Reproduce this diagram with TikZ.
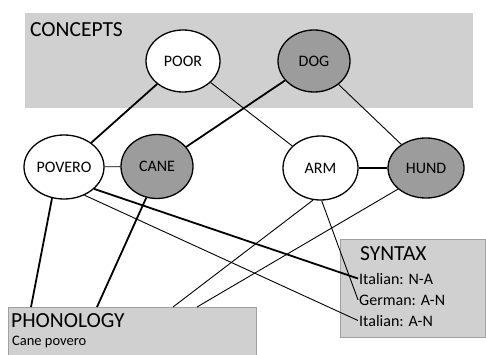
\documentclass[tikz,border=0pt]{standalone}
\usepackage{fontspec}
\setmainfont{Carlito}
\usetikzlibrary{shapes.geometric}
\definecolor{boxgray}{HTML}{D0D0D0}
\definecolor{nodegray}{HTML}{9C9C9C}
\definecolor{edgegray}{HTML}{A0A0A0}

\begin{document}
\begin{tikzpicture}[x=1pt,y=-1pt,
    concept/.style={ellipse,draw,line width=1.3pt,fill=white,inner sep=0pt,
      minimum height=62pt,font=\fontsize{16}{18}\selectfont},
    darkconcept/.style={concept,fill=nodegray},
    strong/.style={line width=1.8pt},
    weak/.style={line width=0.9pt},
    title/.style={anchor=base west,inner sep=0pt,font=\fontsize{21.5}{24}\selectfont},
    entry/.style={anchor=base west,inner sep=1pt,font=\fontsize{16}{18}\selectfont}]
    \clip (0,0) rectangle (486,355);
    % the three levels
    \fill[boxgray] (25,13) rectangle (473,108);
    \filldraw[fill=boxgray,draw=edgegray,line width=1pt] (8,307) rectangle (256,365);
    \filldraw[fill=boxgray,draw=edgegray,line width=1pt] (340,239) rectangle (485,337);
    \node[title] (concepts) at (30,37) {CONCEPTS};
    \node[title] (phonology) at (11,327) {PHONOLOGY};
    \node[anchor=base west,inner sep=0pt,font=\fontsize{14.5}{17}\selectfont] (order) at (12,345) {Cane povero};
    \node[title] (syntax) at (360,260) {SYNTAX};
    \node[entry] (itNA) at (358,284) {Italian: N-A};
    \node[entry] (deAN) at (358,305) {German: A-N};
    \node[entry] (itAN) at (358,326) {Italian: A-N};
    % concepts and words
    \node[concept,minimum width=74pt] (poor) at (183,61) {POOR};
    \node[darkconcept,minimum width=72pt] (dog) at (314,61) {DOG};
    \node[concept,minimum width=80pt,minimum height=64pt] (povero) at (64,167) {POVERO};
    \node[darkconcept,minimum width=72pt,minimum height=64pt] (cane) at (157,166.5) {CANE};
    \node[concept,minimum width=75pt,minimum height=64pt] (arm) at (320.5,168) {ARM};
    \node[darkconcept,minimum width=76pt,minimum height=60pt] (hund) at (426,168) {HUND};
    \coordinate (phA) at (31,307);
    \coordinate (phB) at (97,307);
    \coordinate (phC) at (173,307);
    \coordinate (phD) at (197,307);
    \draw[strong] (poor) -- (povero);
    \draw[weak] (poor) -- (arm);
    \draw[strong] (dog) -- (cane);
    \draw[weak] (dog) -- (hund);
    \draw[weak] (povero) -- (cane);
    \draw[line width=1.3pt] (arm) -- (hund);
    \draw[strong] (povero.-36) -- (itNA.west);
    \draw[weak] (povero.-54) -- (itAN.west);
    \draw[weak] (arm.-88) -- (deAN.west);
    \draw[strong] (povero.-111) -- (phA);
    \draw[strong] (cane.-109) -- (phB);
    \draw[weak] (arm.-103) -- (phC);
    \draw[weak] (hund.-143) -- (phD);
\end{tikzpicture}
\end{document}
